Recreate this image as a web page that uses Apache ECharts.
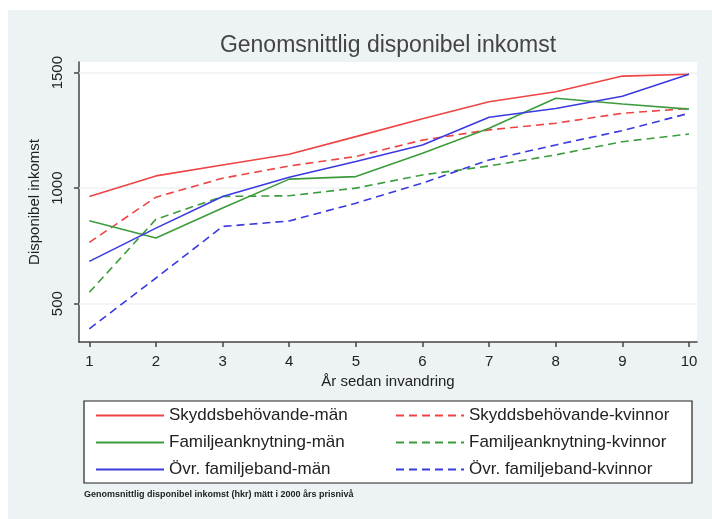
<!DOCTYPE html>
<html>
<head>
<meta charset="utf-8">
<script src="https://cdn.jsdelivr.net/npm/echarts@6/dist/echarts.min.js"></script>
<style>
html,body{margin:0;padding:0;background:#fff;}
#c{width:712px;height:519px;}
</style>
</head>
<body>
<div id="c"></div>
<script>
const years = [1,2,3,4,5,6,7,8,9,10];
const xTicks = [1,2,3,4,5,6,7,8,9,10];
const yTicks = [500,1000,1500];

const skyddMan     = [964,1053,1100,1147,1223,1300,1374,1417,1485,1493];
const skyddKvinnor = [765,961,1043,1096,1137,1208,1252,1281,1324,1345];
const familjMan    = [859,784,914,1039,1050,1151,1259,1389,1364,1342];
const familjKvinnor= [549,865,964,967,1000,1057,1096,1144,1201,1234];
const ovrMan       = [683,827,964,1047,1115,1187,1307,1345,1398,1493];
const ovrKvinnor   = [391,611,834,858,935,1022,1122,1187,1249,1324];

const names = ['Skyddsbehövande-män','Skyddsbehövande-kvinnor','Familjeanknytning-män','Familjeanknytning-kvinnor','Övr. familjeband-män','Övr. familjeband-kvinnor'];
const colors = ['#ee4444','#ee4444','#3c9c3c','#3c9c3c','#3a3ae0','#3a3ae0'];
const dashed = [false,true,false,true,false,true];
const values = [skyddMan,skyddKvinnor,familjMan,familjKvinnor,ovrMan,ovrKvinnor];

const FONT = 'Liberation Sans, Arial, sans-serif';

const series = values.map((v,i)=>({
  name: names[i],
  type: 'line',
  data: years.map((y,j)=>[y, v[j]]),
  symbol: 'none',
  color: colors[i],
  lineStyle: {color: colors[i], width: 1.6, type: dashed[i] ? [8,5] : 'solid'},
  animation: false,
  z: 3
}));
series[0].markLine = {
  silent: true, symbol: 'none', label:{show:false},
  lineStyle: {color:'#edf2f4', width:1.5, type:'solid'},
  data: yTicks.map(t=>({yAxis:t})),
  z: 1
};

const legendCommon = {
  orient: 'vertical', top: 402, itemGap: 10, itemWidth: 68, itemHeight: 17,
  itemStyle: {opacity: 0},
  textStyle: {fontFamily: FONT, fontSize: 17, color:'#222'}
};

const chart = echarts.init(document.getElementById('c'), null, {renderer:'canvas'});
chart.setOption({
  backgroundColor: '#ffffff',
  animation: false,
  title: {
    text: 'Genomsnittlig disponibel inkomst',
    left: 383, top: 29, textAlign: 'center',
    textStyle: {fontFamily: FONT, fontWeight: 'normal', fontSize: 23, color: '#444'}
  },
  graphic: [
    {type:'rect', shape:{x:8,y:10,width:704,height:509}, style:{fill:'#edf2f5'}, z:-10, silent:true},
    {type:'rect', shape:{x:84,y:401,width:608,height:82}, style:{fill:'#ffffff', stroke:'#222', lineWidth:1.2}, z:-5, silent:true},
    {type:'text', left: 84, top: 490, style:{text:'Genomsnittlig disponibel inkomst (hkr) mätt i 2000 års prisnivå', font:'bold 9px ' + FONT, fill:'#222'}}
  ],
  legend: [
    Object.assign({data: [names[0], names[2], names[4]], left: 90}, legendCommon),
    Object.assign({data: [names[1], names[3], names[5]], left: 390}, legendCommon)
  ],
  grid: {left: 79, top: 62, width: 618, height: 280, show: true, backgroundColor: '#ffffff', borderWidth: 0, containLabel: false},
  xAxis: {
    type: 'value', min: 0.845, max: 10.12,
    name: 'År sedan invandring', nameLocation: 'middle', nameGap: 32,
    nameTextStyle: {fontFamily: FONT, fontSize: 15, color:'#222'},
    axisLine: {show: true, onZero: false, lineStyle: {color:'#444', width: 1.5}},
    axisTick: {show: true, customValues: xTicks, length: 5, lineStyle:{color:'#444', width:1.5}},
    axisLabel: {customValues: xTicks, margin: 12, fontFamily: FONT, fontSize: 15, color:'#222'},
    splitLine: {show: false}
  },
  yAxis: {
    type: 'value', min: 334, max: 1546,
    name: 'Disponibel inkomst', nameLocation: 'middle', nameGap: 36, nameRotate: 90,
    nameTextStyle: {fontFamily: FONT, fontSize: 15, color:'#222'},
    axisLine: {show: true, onZero: false, lineStyle: {color:'#444', width: 1.5}},
    axisTick: {show: true, customValues: yTicks, length: 5, lineStyle:{color:'#444', width:1.5}},
    axisLabel: {customValues: yTicks, rotate: 90, margin: 14, fontFamily: FONT, fontSize: 15, color:'#222', formatter: v => String(v)},
    splitLine: {show: false}
  },
  series: series
});
</script>
</body>
</html>
